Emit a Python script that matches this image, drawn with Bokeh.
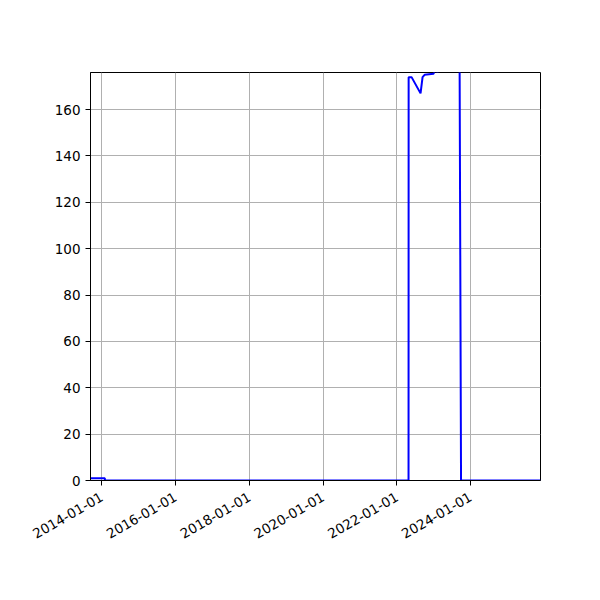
import math
import pandas as pd
from bokeh.plotting import figure
from bokeh.models import Range1d, FixedTicker, DatetimeTickFormatter, ColumnDataSource
from bokeh.embed import file_html
from bokeh.resources import INLINE

# Data
dates = ["2013-09-11", "2014-01-31", "2014-02-01", "2022-04-27", "2022-04-28",
         "2022-05-27", "2022-08-24", "2022-09-13", "2022-10-03", "2022-12-31",
         "2023-01-20", "2023-02-09", "2023-03-01", "2023-09-14", "2023-09-29",
         "2025-11-24"]
values = [1, 1, 0, 0, 174, 174, 167, 174, 175, 175.5, 178, 176, 185, 190, 0, 0]

tick_years = ["2014-01-01", "2016-01-01", "2018-01-01", "2020-01-01", "2022-01-01", "2024-01-01"]
y_ticks = [0, 20, 40, 60, 80, 100, 120, 140, 160]

x = pd.to_datetime(dates)
src = ColumnDataSource(dict(x=x, y=values))

p = figure(width=592, height=592, output_backend="svg", toolbar_location=None,
           x_axis_type="datetime",
           x_range=Range1d(pd.Timestamp("2013-09-11"), pd.Timestamp("2025-11-24")),
           y_range=Range1d(0, 176),
           min_border_left=90, min_border_right=52, min_border_top=72, min_border_bottom=112)

p.line("x", "y", source=src, line_color="blue", line_width=2)

tick_ms = [pd.Timestamp(t).value / 1e6 for t in tick_years]
p.xaxis.ticker = FixedTicker(ticks=tick_ms)
p.xaxis.formatter = DatetimeTickFormatter(years="%Y-%m-%d", months="%Y-%m-%d", days="%Y-%m-%d")
p.xaxis.major_label_orientation = math.pi / 6
p.xaxis.major_label_standoff = 10
p.yaxis.ticker = FixedTicker(ticks=y_ticks)

for ax in (p.xaxis, p.yaxis):
    ax.major_label_text_font = "DejaVu Sans"
    ax.major_label_text_font_size = "13.5px"
    ax.major_label_text_color = "black"
    ax.axis_line_color = "black"
    ax.major_tick_line_color = "black"
    ax.major_tick_out = 5
    ax.major_tick_in = 0
    ax.minor_tick_line_color = None

p.grid.grid_line_color = "#b0b0b0"
p.grid.grid_line_width = 1
p.outline_line_color = "black"
p.outline_line_alpha = 1
p.background_fill_color = "white"
p.border_fill_color = "white"

open("out.html", "w").write(file_html(p, INLINE))
